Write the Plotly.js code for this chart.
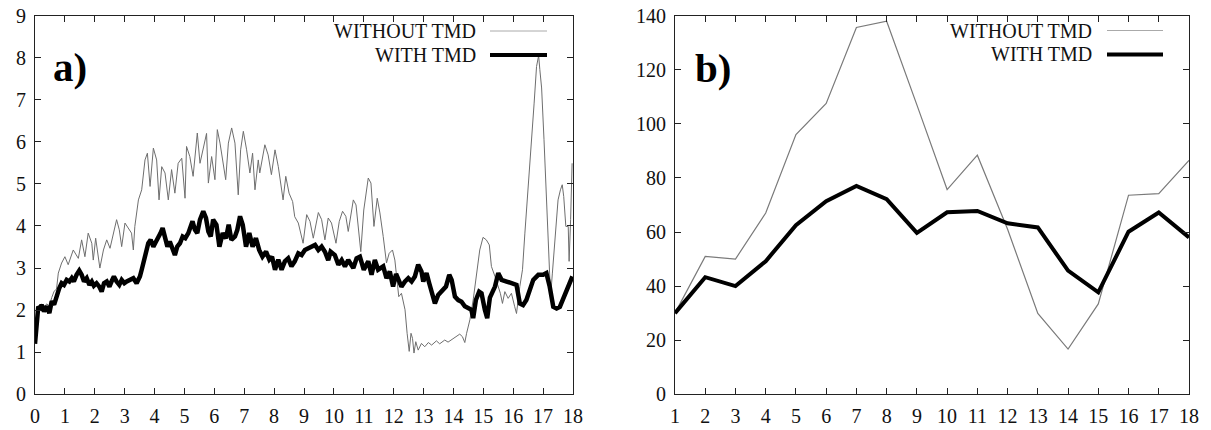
<!DOCTYPE html>
<html>
<head>
<meta charset="utf-8">
<script src="https://cdn.plot.ly/plotly-3.0.1.min.js"></script>
<style>html,body{margin:0;padding:0;background:#fff;}#chart{width:1211px;height:430px;}</style>
</head>
<body>
<div id="chart"></div>
<script>
// Panel a) – time history, WITHOUT TMD (thin)
const aWithoutX = [0,0.03,0.08,0.11,0.17,0.22,0.30,0.39,0.48,0.56,0.64,0.72,0.78,0.89,1.00,1.11,1.28,1.45,1.56,1.67,1.78,1.90,1.95,2.03,2.17,2.29,2.40,2.51,2.62,2.73,2.82,2.90,3.01,3.12,3.23,3.29,3.34,3.46,3.57,3.68,3.76,3.85,3.96,4.07,4.15,4.24,4.35,4.46,4.57,4.68,4.79,4.91,5.02,5.07,5.18,5.29,5.43,5.52,5.63,5.74,5.80,5.91,6.02,6.10,6.19,6.30,6.38,6.47,6.58,6.69,6.80,6.88,6.97,7.08,7.19,7.28,7.36,7.47,7.52,7.69,7.80,7.91,8.03,8.14,8.25,8.30,8.39,8.50,8.62,8.69,8.81,8.97,9.09,9.20,9.31,9.48,9.59,9.70,9.81,9.92,10.07,10.18,10.29,10.40,10.48,10.65,10.74,10.82,10.90,11.00,11.15,11.24,11.34,11.45,11.54,11.65,11.76,11.85,11.96,12.04,12.17,12.26,12.38,12.45,12.52,12.58,12.63,12.68,12.74,12.82,12.93,13.04,13.16,13.27,13.43,13.54,13.71,13.82,13.99,14.10,14.21,14.30,14.38,14.44,14.55,14.66,14.77,14.88,14.99,15.10,15.20,15.27,15.39,15.50,15.57,15.64,15.72,15.83,15.94,16.05,16.11,16.22,16.31,16.39,16.50,16.61,16.70,16.78,16.85,16.89,16.95,17.03,17.11,17.19,17.25,17.31,17.42,17.50,17.58,17.64,17.69,17.76,17.84,17.87,17.92,17.97];
const aWithoutY = [1.2,1.55,1.95,2.12,2.05,2.15,2.05,2.15,2.1,2.3,2.45,2.5,2.88,3.12,3.27,3.08,3.43,3.23,3.67,3.27,3.83,3.59,3.19,3.71,3.00,3.43,3.67,3.47,3.83,4.15,3.91,3.51,4.07,3.95,3.83,3.43,3.99,4.62,4.86,5.57,5.73,4.94,5.85,5.57,4.62,5.41,5.26,4.62,5.34,4.78,5.49,5.61,4.66,5.89,5.65,5.18,6.21,5.49,5.81,6.2,5.02,5.65,5.10,6.29,5.97,5.49,5.10,5.97,6.33,5.97,4.74,5.81,6.25,5.81,5.26,5.73,4.86,5.57,5.26,5.93,5.69,5.22,5.81,5.41,4.94,4.62,5.18,4.78,4.58,4.22,4.07,3.59,4.27,4.11,3.71,4.32,4.15,3.67,4.19,4.07,3.59,4.11,4.35,4.23,3.87,4.62,4.50,3.99,3.39,4.38,5.14,5.02,3.99,4.66,4.31,3.75,3.12,3.35,3.43,3.19,2.32,2.40,2.01,1.45,1.02,1.45,1.33,0.98,1.25,1.05,1.21,1.13,1.23,1.17,1.27,1.20,1.29,1.24,1.33,1.37,1.43,1.37,1.23,1.45,1.77,2.24,2.80,3.43,3.73,3.67,3.55,3.04,2.80,2.56,2.40,2.16,2.44,2.28,2.40,2.08,1.92,2.56,2.96,3.83,4.86,5.89,6.92,7.79,8.05,7.72,7.28,6.05,4.70,3.36,2.33,2.88,3.99,4.62,4.86,4.98,4.70,3.99,3.99,3.16,4.15,5.49];

// Panel a) – time history, WITH TMD (thick)
const aWithX = [0,0.03,0.08,0.11,0.17,0.22,0.30,0.39,0.48,0.56,0.64,0.72,0.81,0.89,0.97,1.06,1.15,1.23,1.30,1.39,1.48,1.56,1.64,1.73,1.82,1.90,1.97,2.06,2.15,2.23,2.31,2.40,2.49,2.56,2.64,2.73,2.82,2.90,2.99,3.07,3.18,3.29,3.40,3.51,3.57,3.62,3.71,3.79,3.87,3.96,4.05,4.12,4.20,4.27,4.35,4.43,4.51,4.60,4.68,4.76,4.85,4.94,5.03,5.13,5.20,5.27,5.35,5.43,5.52,5.63,5.72,5.80,5.88,5.96,6.07,6.17,6.28,6.39,6.48,6.57,6.69,6.77,6.86,6.95,7.06,7.17,7.28,7.39,7.50,7.61,7.73,7.84,7.93,8.03,8.14,8.25,8.36,8.47,8.58,8.69,8.81,8.92,9.03,9.14,9.37,9.48,9.59,9.70,9.81,9.89,10.03,10.15,10.26,10.37,10.48,10.65,10.76,10.87,11.00,11.15,11.26,11.37,11.48,11.65,11.76,11.87,11.98,12.08,12.26,12.38,12.49,12.60,12.71,12.82,12.93,12.99,13.10,13.19,13.27,13.38,13.49,13.60,13.75,13.86,13.94,14.05,14.16,14.27,14.38,14.49,14.60,14.66,14.75,14.86,14.94,15.05,15.13,15.22,15.39,15.50,15.61,15.78,15.94,16.11,16.22,16.33,16.44,16.56,16.67,16.84,17.00,17.11,17.22,17.34,17.45,17.56,17.67,17.80,17.91,17.98];
const aWithY = [1.2,1.53,1.93,2.09,2.0,2.13,1.97,2.09,1.93,2.21,2.13,2.36,2.52,2.64,2.60,2.72,2.68,2.76,2.68,2.84,2.94,2.84,2.68,2.76,2.60,2.68,2.58,2.64,2.56,2.44,2.64,2.68,2.56,2.68,2.80,2.68,2.60,2.72,2.64,2.68,2.72,2.76,2.64,2.80,2.96,3.12,3.35,3.59,3.67,3.51,3.63,3.71,3.83,3.95,3.67,3.51,3.63,3.47,3.31,3.51,3.59,3.75,3.71,3.83,3.99,4.11,3.91,3.83,4.15,4.35,4.19,3.87,3.75,4.15,4.03,3.51,3.83,3.71,4.03,3.67,3.75,3.91,4.23,4.03,3.51,3.83,3.51,3.71,3.43,3.27,3.39,3.20,3.27,2.96,3.20,2.96,3.16,3.23,3.04,3.16,3.35,3.31,3.43,3.47,3.55,3.43,3.51,3.39,3.19,3.39,3.31,3.08,3.19,3.04,3.19,3.00,3.23,3.27,2.96,3.16,2.84,3.19,2.96,3.04,2.76,2.92,2.56,2.86,2.56,2.68,2.76,2.68,2.80,3.08,2.92,2.68,2.88,2.64,2.44,2.16,2.36,2.44,2.56,2.84,2.72,2.32,2.24,2.20,2.09,2.05,2.01,1.81,2.24,2.44,2.40,2.01,1.81,2.30,2.56,2.88,2.72,2.68,2.64,2.60,2.16,2.12,2.24,2.52,2.72,2.84,2.84,2.88,2.56,2.08,2.04,2.08,2.28,2.52,2.72,2.80];

// Panel b)
const bX = [1,2,3,4,5,6,7,8,9,10,11,12,13,14,15,16,17,18];
const bWithout = [30,51,50,67,96,107.5,135.6,137.9,107,75.7,88.4,61,29.9,16.7,33.4,73.6,74.2,86.5];
const bWith = [30,43.3,40,49.2,62.5,71.4,77,72.1,59.7,67.3,67.8,63.2,61.7,45.7,37.7,60.1,67.2,58];

const legendNames = ['WITHOUT TMD', 'WITH TMD'];
const panelLabels = ['a)', 'b)'];

const W = 1211, H = 430;
const FONT = 'Liberation Serif';
const thin = {color: '#6e6e6e', width: 1};
const thick = {color: '#000', width: 4.5};

const traces = [
  {x: aWithoutX, y: aWithoutY, xaxis: 'x', yaxis: 'y', mode: 'lines', line: thin, name: legendNames[0], showlegend: false},
  {x: aWithX, y: aWithY, xaxis: 'x', yaxis: 'y', mode: 'lines', line: thick, name: legendNames[1], showlegend: false},
  {x: bX, y: bWithout, xaxis: 'x2', yaxis: 'y2', mode: 'lines', line: {color: '#7a7a7a', width: 1.2}, name: legendNames[0], showlegend: false},
  {x: bX, y: bWith, xaxis: 'x2', yaxis: 'y2', mode: 'lines', line: {color: '#000', width: 4}, name: legendNames[1], showlegend: false}
];

const axBase = {
  showline: true, linecolor: '#222', linewidth: 1, mirror: 'ticks',
  ticks: 'inside', ticklen: 6, tickcolor: '#222', tickwidth: 1,
  showgrid: false, zeroline: false,
  tickfont: {family: FONT, size: 20, color: '#111'}
};

const yDom = [1 - 394.3 / H, 1 - 15.6 / H];
const layout = {
  width: W, height: H,
  margin: {l: 0, r: 0, t: 0, b: 0},
  paper_bgcolor: '#fff', plot_bgcolor: '#fff',
  showlegend: false,
  xaxis: Object.assign({}, axBase, {domain: [35 / W, 573 / W], range: [0, 18], tickmode: 'linear', tick0: 0, dtick: 1, anchor: 'y', ticklabelstandoff: 4}),
  yaxis: Object.assign({}, axBase, {domain: yDom, range: [0, 9], tickmode: 'linear', tick0: 0, dtick: 1, anchor: 'x', ticklabelstandoff: 4}),
  xaxis2: Object.assign({}, axBase, {domain: [675 / W, 1189 / W], range: [1, 18], tickmode: 'linear', tick0: 1, dtick: 1, anchor: 'y2', ticklabelstandoff: 4}),
  yaxis2: Object.assign({}, axBase, {domain: yDom, range: [0, 140], tickmode: 'linear', tick0: 0, dtick: 20, anchor: 'x2', ticklabelstandoff: 4}),
  annotations: [],
  shapes: []
};

function addLegend(textRight, lineX0, lineX1, y1, y2) {
  const f = {family: FONT, size: 20, color: '#111'};
  layout.annotations.push(
    {xref: 'paper', yref: 'paper', x: textRight / W, y: 1 - y1 / H, xanchor: 'right', yanchor: 'middle', showarrow: false, text: legendNames[0], font: f},
    {xref: 'paper', yref: 'paper', x: textRight / W, y: 1 - y2 / H, xanchor: 'right', yanchor: 'middle', showarrow: false, text: legendNames[1], font: f}
  );
  layout.shapes.push(
    {type: 'line', xref: 'paper', yref: 'paper', x0: lineX0 / W, x1: lineX1 / W, y0: 1 - y1 / H, y1: 1 - y1 / H, line: {color: '#aaa', width: 1}},
    {type: 'line', xref: 'paper', yref: 'paper', x0: lineX0 / W, x1: lineX1 / W, y0: 1 - y2 / H, y1: 1 - y2 / H, line: {color: '#000', width: 4}}
  );
}
addLegend(478, 490, 547, 31, 55);
addLegend(1094, 1107, 1163, 30.5, 54.5);

layout.annotations.push(
  {xref: 'paper', yref: 'paper', x: 51 / W, y: 1 - 67 / H, xanchor: 'left', yanchor: 'middle', showarrow: false, text: '<b>' + panelLabels[0] + '</b>', font: {family: FONT, size: 41, color: '#000'}},
  {xref: 'paper', yref: 'paper', x: 693 / W, y: 1 - 68 / H, xanchor: 'left', yanchor: 'middle', showarrow: false, text: '<b>' + panelLabels[1] + '</b>', font: {family: FONT, size: 41, color: '#000'}}
);

Plotly.newPlot('chart', traces, layout, {displayModeBar: false, staticPlot: true});
</script>
</body>
</html>
